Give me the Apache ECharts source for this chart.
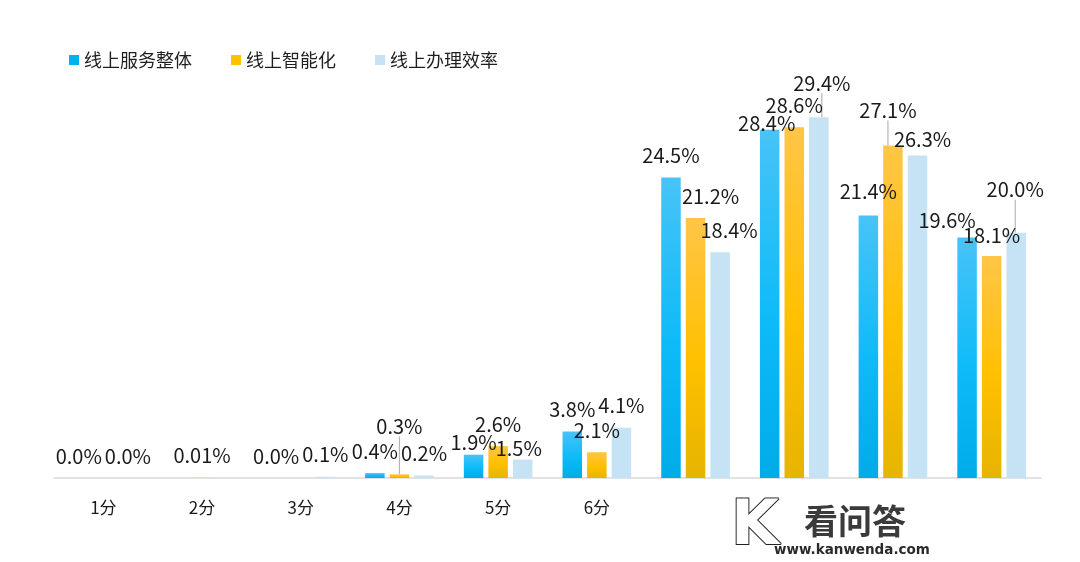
<!DOCTYPE html>
<html>
<head>
<meta charset="utf-8">
<script src="https://cdn.jsdelivr.net/npm/echarts@6/dist/echarts.min.js"></script>
<style>
html,body{margin:0;padding:0;background:#fff;}
#main{width:1080px;height:562px;}
</style>
</head>
<body>
<div id="main"></div>
<script>
// ---- data ----
var categories = ['1分','2分','3分','4分','5分','6分','7分','8分','9分','10分'];
var seriesNames = ['线上服务整体','线上智能化','线上办理效率'];
var overall    = [0.0, null, 0.0, 0.4, 1.9, 3.8, 24.5, 28.4, 21.4, 19.6];
var smart      = [null, 0.01, null, 0.3, 2.6, 2.1, 21.2, 28.6, 27.1, 18.1];
var efficiency = [0.0, null, 0.1, 0.2, 1.5, 4.1, 18.4, 29.4, 26.3, 20.0];

// ---- label layout tweaks (styling, not data) ----
var labelShift = [
  {4:[0,10], 7:[-3,16], 8:[0,-2], 9:[-20,5]},
  {3:[0,-26], 6:[15,0], 8:[-5,-13], 9:[0,1]},
  {4:[-4,11], 6:[9,0], 7:[3,-12], 8:[5,6], 9:[-1,-21]}
];
var leaders = [[], [3, 8], [7, 9]];

function fmt(p) {
  var v = p.value;
  if (v === null || v === undefined) return '';
  var s = Math.abs(v * 10 - Math.round(v * 10)) < 1e-9 ? v.toFixed(1) : String(v);
  return s + '%';
}

var LBL_FONT = '"Liberation Sans Narrow", "Noto Sans CJK SC", sans-serif';

var colors = [
  new echarts.graphic.LinearGradient(0,0,0,1,[{offset:0,color:'#48c3f7'},{offset:0.55,color:'#0dbbf8'},{offset:1,color:'#00abe8'}]),
  new echarts.graphic.LinearGradient(0,0,0,1,[{offset:0,color:'#ffc547'},{offset:0.55,color:'#ffc000'},{offset:1,color:'#e6b400'}]),
  '#c5e3f4'
];
var legendColors = ['#00b0f0','#ffc000','#c5e3f4'];

function buildData(arr, si) {
  return arr.map(function (v, i) {
    if (leaders[si].indexOf(i) >= 0) {
      return {value: v, labelLine: {show: true}};
    }
    return v;
  });
}

var raw = [overall, smart, efficiency];
var series = raw.map(function (arr, si) {
  return {
    name: seriesNames[si],
    type: 'bar',
    data: buildData(arr, si),
    barWidth: 19.5,
    barGap: '26%',
    itemStyle: {color: colors[si]},
    label: {
      show: true,
      position: 'top',
      distance: 12,
      formatter: fmt,
      color: '#1a1a1a',
      fontSize: 20,
      fontFamily: LBL_FONT
    },
    labelLine: {show: false, lineStyle: {color: '#b4b4c4', width: 1.2}},
    labelLayout: function (params) {
      var sh = labelShift[params.seriesIndex][params.dataIndex];
      if (!sh) return {};
      return {dx: sh[0], dy: sh[1]};
    }
  };
});

var chart = echarts.init(document.getElementById('main'), null, {renderer: 'canvas'});
chart.setOption({
  animation: false,
  backgroundColor: '#ffffff',
  color: legendColors,
  legend: {
    left: 64,
    top: 46,
    itemWidth: 10,
    itemHeight: 10,
    itemGap: 39,
    icon: 'rect',
    textStyle: {fontSize: 18, color: '#1f1f1f', fontFamily: 'Noto Sans CJK SC'},
    data: seriesNames.map(function (n, i) { return {name: n, itemStyle: {color: legendColors[i]}}; })
  },
  grid: {left: 54, right: 39, top: 110, bottom: 84, containLabel: false},
  xAxis: {
    type: 'category',
    data: categories,
    axisLine: {lineStyle: {color: '#d9d9d9', width: 1.5}},
    axisTick: {show: false},
    axisLabel: {fontSize: 17, color: '#1a1a1a', margin: 21, fontFamily: LBL_FONT}
  },
  yAxis: {type: 'value', min: 0, max: 30, show: false, splitLine: {show: false}},
  series: series,
  graphic: [
    {type: 'rect', z: 100, left: 646, top: 480, shape: {width: 434, height: 82}, style: {fill: '#ffffff'}},
    {type: 'text', z: 101, left: 730, top: 496, style: {text: 'K', fontSize: 62, fontWeight: 'bold', fontFamily: 'DejaVu Sans', fill: '#ffffff', stroke: '#222222', lineWidth: 2}},
    {type: 'text', z: 101, left: 804, top: 504, style: {text: '看问答', fontSize: 34, fontWeight: 'bold', fontFamily: 'Noto Sans CJK SC', fill: '#3a3a3a'}},
    {type: 'text', z: 101, left: 774, top: 543, style: {text: 'www.kanwenda.com', fontSize: 13.5, fontWeight: 'bold', fontFamily: 'DejaVu Sans', fill: '#2a2a2a'}}
  ]
});
</script>
</body>
</html>
